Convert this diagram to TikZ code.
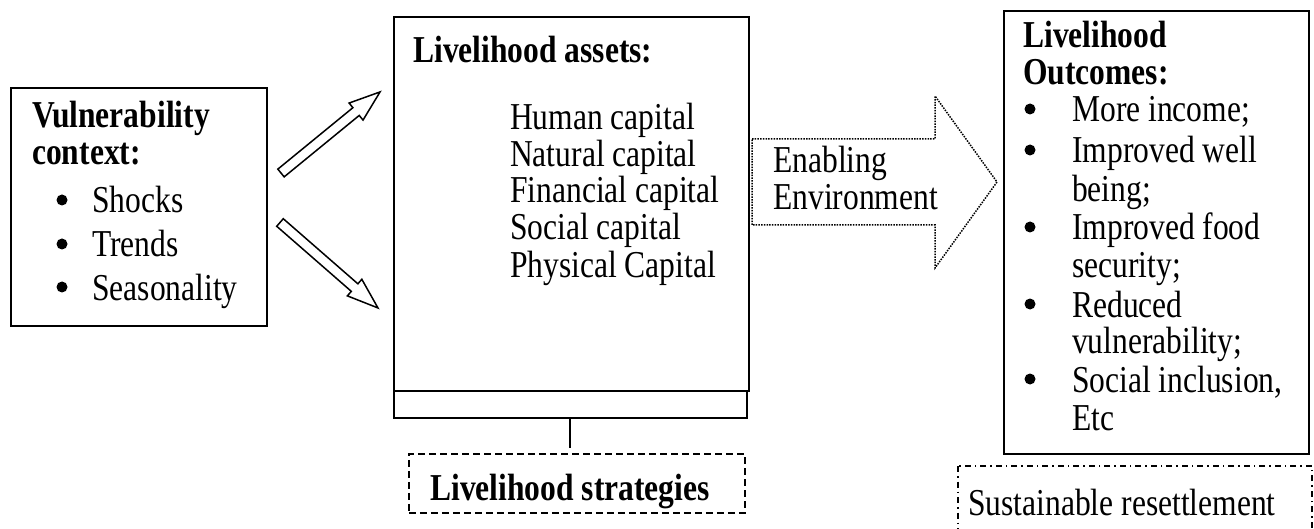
\documentclass[tikz,border=0pt]{standalone}
\usepackage{fontspec}
% Times-like face, set tall and narrow
\setmainfont{Liberation Serif}[FakeStretch=0.83]
\begin{document}
\begin{tikzpicture}[x=1pt,y=1pt,
  box/.style={draw, line width=1.8pt, inner sep=0pt, anchor=north west},
  txt/.style={inner sep=0pt, anchor=base west, font=\fontsize{38}{44}\selectfont},
  btxt/.style={txt, font=\fontsize{38}{44}\selectfont\bfseries},
  dot/.style={circle, fill, inner sep=0pt, minimum size=11pt},
  blockarrow/.style={draw, line width=1.5pt, line join=miter, fill=white},
  strategy/.style={box, line width=1.5pt, dash pattern=on 7pt off 4pt},
  resettle/.style={draw, line width=1.5pt, dash pattern=on 6pt off 4pt on 1.5pt off 4pt},
  enabling/.style={draw, line width=1.5pt, dash pattern=on 1.5pt off 1.2pt}]
\useasboundingbox (0,0) rectangle (1314,-529);

% vulnerability context
\node[box, minimum width=256pt, minimum height=238pt] (vul) at (10,-87) {};
\node[btxt] (vultitle) at (32,-128) {Vulnerability};
\node[btxt] (vulctx) at (32,-165) {context:};
\node[dot] (b1) at (62,-200) {};
\node[txt] (shocks) at (92,-213) {Shocks};
\node[dot] (b2) at (62,-244) {};
\node[txt] (trends) at (92,-257) {Trends};
\node[dot] (b3) at (62,-287) {};
\node[txt] (season) at (92,-300) {Seasonality};

% block arrows into the assets box
\begin{scope}[shift={(281,-173)}, rotate=39.3]
  \draw[blockarrow] (0,-5) -- (97,-5) -- (97,-11) -- (128,0) -- (97,11) -- (97,5) -- (0,5) -- cycle;
\end{scope}
\begin{scope}[shift={(280,-222.5)}, rotate=-41.1]
  \draw[blockarrow] (0,-5) -- (99,-5) -- (99,-11) -- (130,0) -- (99,11) -- (99,5) -- (0,5) -- cycle;
\end{scope}

% livelihood assets
\node[box, minimum width=355pt, minimum height=374pt] (assets) at (393,-16) {};
\node[box, minimum width=353pt, minimum height=27pt] (assetsbase) at (393,-390) {};
\node[btxt] (assetstitle) at (413,-63) {Livelihood assets:};
\node[txt] (human) at (510,-130) {Human capital};
\node[txt] (natural) at (510,-167) {Natural capital};
\node[txt] (financial) at (510,-203) {Financial capital};
\node[txt] (social) at (510,-240) {Social capital};
\node[txt] (physical) at (510,-277) {Physical Capital};

% livelihood strategies
\node[strategy, minimum width=336pt, minimum height=59pt] (strat) at (408,-453) {};
\node[btxt] (strattext) at (430,-500) {Livelihood strategies};
\draw[line width=1.8pt, shorten >=5pt] (assetsbase.south -| 570,0) -- (strat.north -| 570,0);

% enabling environment arrow
\draw[enabling] (752,-139) -- (935,-139) -- (935,-96) -- (997,-182) -- (935,-268)
  -- (935,-225) -- (752,-225) -- cycle;
\node[txt] (enab1) at (773,-173) {Enabling};
\node[txt] (enab2) at (773,-210) {Environment};

% livelihood outcomes
\node[box, minimum width=305pt, minimum height=443pt] (outc) at (1003,-10) {};
\node[btxt] (outt1) at (1023,-48) {Livelihood};
\node[btxt] (outt2) at (1023,-85) {Outcomes:};
\node[dot] (o1) at (1030,-109) {};
\node[txt] (oa) at (1072,-122) {More income;};
\node[dot] (o2) at (1030,-150) {};
\node[txt] (ob1) at (1072,-163) {Improved well};
\node[txt] (ob2) at (1072,-202) {being;};
\node[dot] (o3) at (1030,-227) {};
\node[txt] (oc1) at (1072,-240) {Improved food};
\node[txt] (oc2) at (1072,-277) {security;};
\node[dot] (o4) at (1030,-304) {};
\node[txt] (od1) at (1072,-317) {Reduced};
\node[txt] (od2) at (1072,-353) {vulnerability;};
\node[dot] (o5) at (1030,-379) {};
\node[txt] (oe1) at (1072,-392) {Social inclusion,};
\node[txt] (oe2) at (1072,-430) {Etc};

% sustainable resettlement
\begin{scope}
  \clip (0,0) rectangle (1314,-529);
  \draw[resettle] (958,-466) rectangle (1312,-560);
  \node[txt] (resett) at (968,-515) {Sustainable resettlement};
\end{scope}
\end{tikzpicture}
\end{document}
